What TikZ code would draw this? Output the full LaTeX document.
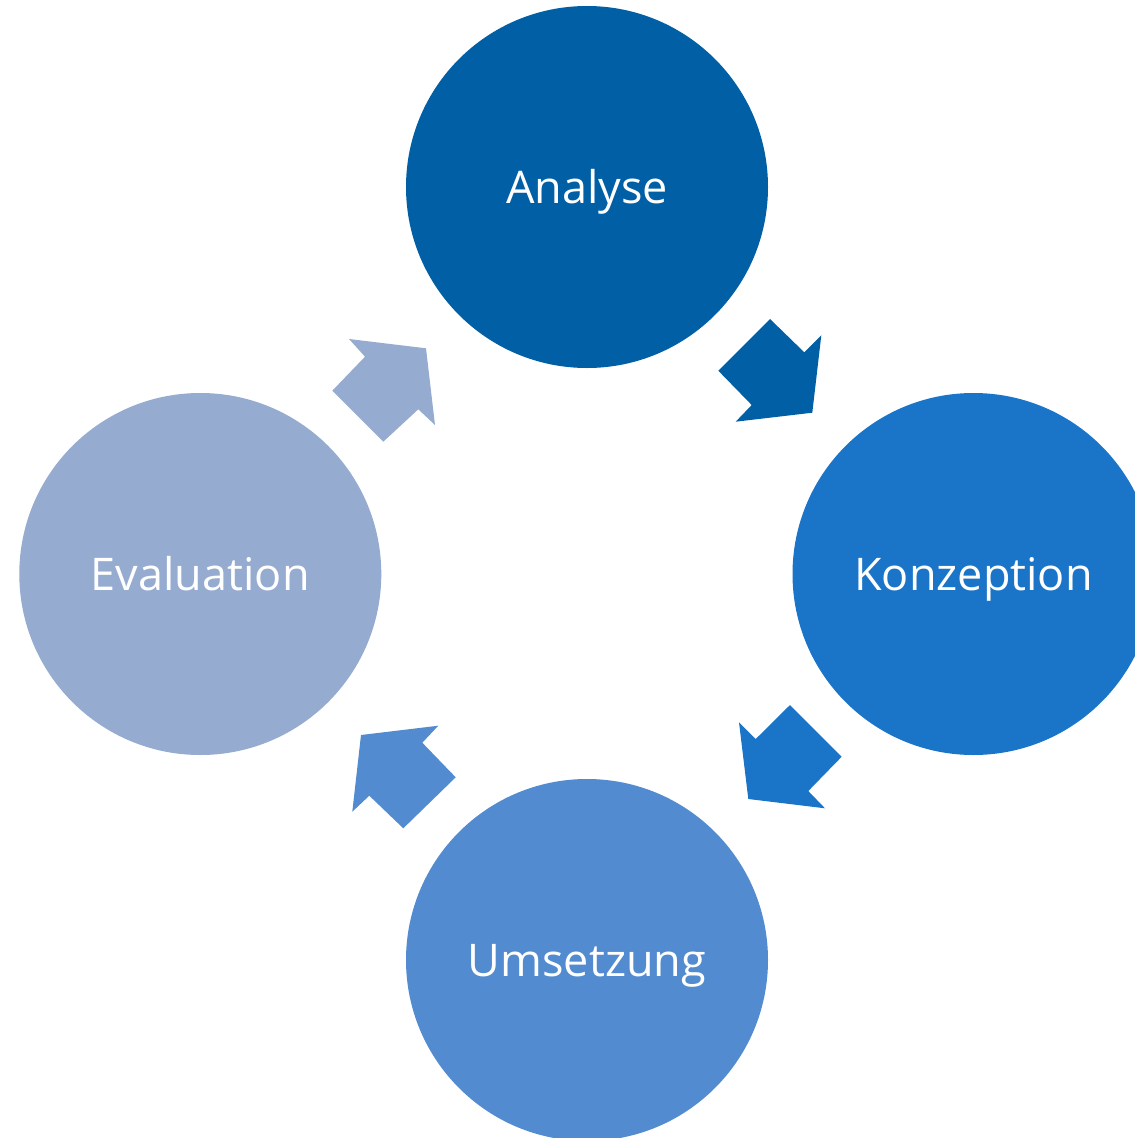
\documentclass[tikz,border=0pt]{standalone}
\usepackage{fontspec}
\setmainfont{Open Sans}
\definecolor{cA}{HTML}{005FA5}
\definecolor{cK}{HTML}{1A75C9}
\definecolor{cU}{HTML}{528BD0}
\definecolor{cE}{HTML}{96ABD0}
\tikzset{
  phase/.style={circle, minimum size=362pt, inner sep=0pt, text=white,
    font=\fontsize{45}{54}\selectfont, text height=32pt, text depth=0pt},
}
\begin{document}
\begin{tikzpicture}[x=1pt,y=-1pt]
\useasboundingbox (0,0) rectangle (1135,1138);
\clip (0,0) rectangle (1135,1138);
\node[phase, fill=cA] (ana) at (587,187) {Analyse};
\node[phase, fill=cK] (kon) at (973.5,574) {Konzeption};
\node[phase, fill=cU] (ums) at (587,960) {Umsetzung};
\node[phase, fill=cE] (eva) at (200.3,574) {Evaluation};
% block arrows
\fill[cA] (718.3,370.7) -- (770,319) -- (804.3,352.3) -- (821.3,335.3) -- (812.3,412.7) -- (735.7,421.7) -- (751.7,405) -- cycle;
\fill[cK] (790,705) -- (841.7,756.7) -- (808.3,791) -- (825,808.3) -- (748.3,799) -- (739,722.3) -- (755.7,739) -- cycle;
\fill[cU] (438.3,725.7) -- (422.3,742.7) -- (455.7,777.3) -- (403.3,828.3) -- (369.3,795.7) -- (352.3,811.7) -- (361,735) -- cycle;
\fill[cE] (349,339) -- (426,348.3) -- (435,425) -- (418.3,409.3) -- (383.3,441.7) -- (332.3,390.7) -- (365,356.7) -- cycle;
\end{tikzpicture}
\end{document}
